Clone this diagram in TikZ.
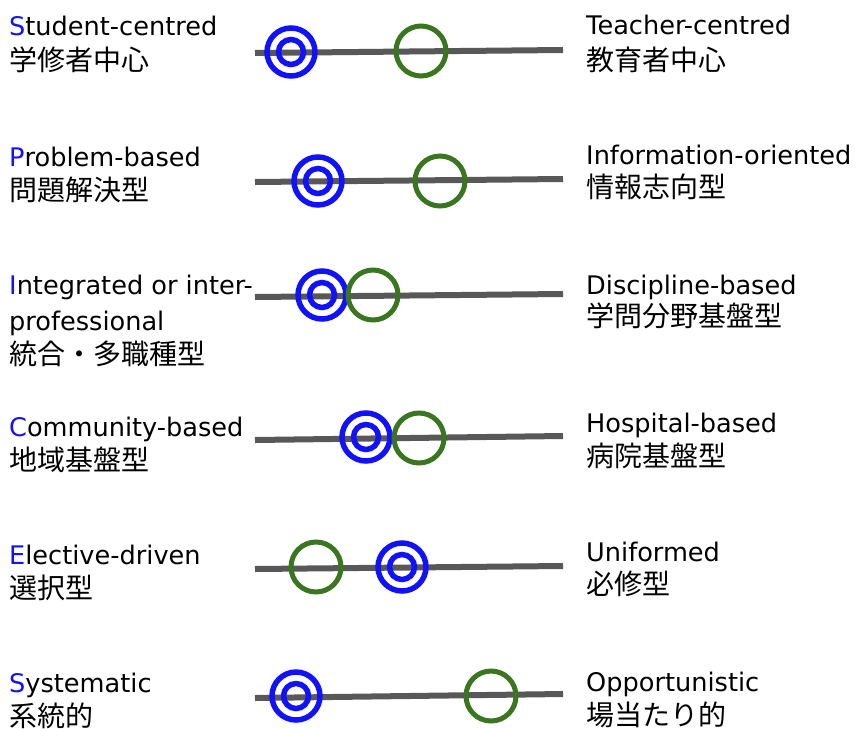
\documentclass[tikz,border=0pt]{standalone}
\usepackage{fontspec}
\setmainfont{DejaVu Sans}
\newfontfamily\jpfont{Noto Sans CJK JP}
\usetikzlibrary{positioning}

\definecolor{ringblue}{RGB}{18,18,250}
\definecolor{ringgreen}{RGB}{58,118,32}
\definecolor{barcol}{RGB}{88,88,88}

\newcommand\firstch[1]{\textcolor{ringblue}{#1}}

\begin{document}
\begin{tikzpicture}[%
    x=1pt, y=-1pt,
    lbl/.style={anchor=base west, inner sep=0pt, font=\fontsize{25.6}{30}\selectfont},
    jlbl/.style={anchor=base west, inner sep=0pt, font=\fontsize{28}{30}\selectfont\jpfont},
    bar/.style={draw=barcol, line width=6pt},
    target/.style={circle, draw=ringblue, line width=5.5pt, inner sep=0pt, minimum size=48pt},
    bull/.style={circle, draw=ringblue, line width=5.5pt, inner sep=0pt, minimum size=25pt},
    ring/.style={circle, draw=ringgreen, line width=5pt, inner sep=0pt, minimum size=50pt}
    ]

    \useasboundingbox (0,0) rectangle (858,728);

    % S
    \node[lbl] (s1) at (9,35) {\firstch{S}tudent-centred};
    \node[jlbl] (s1j) at (9,70) {学修者中心};
    \node[lbl] (s2) at (586,34) {Teacher-centred};
    \node[jlbl] (s2j) at (586,70) {教育者中心};
    \coordinate (sa) at (255,53);
    \coordinate (sb) at (563,50);
    \draw[bar] (sa) -- (sb);
    \node[target] (st) at (291,52) {};
    \node[bull] (sc) at (st) {};
    \node[ring] (sg) at (421,51) {};

    % P
    \node[lbl] (p1) at (9,166) {\firstch{P}roblem-based};
    \node[jlbl] (p1j) at (9,200) {問題解決型};
    \node[lbl] (p2) at (586,164) {Information-oriented};
    \node[jlbl] (p2j) at (586,197) {情報志向型};
    \coordinate (pa) at (255,182);
    \coordinate (pb) at (563,179);
    \draw[bar] (pa) -- (pb);
    \node[target] (pt) at (318,181) {};
    \node[bull] (pc) at (pt) {};
    \node[ring] (pg) at (440,181) {};

    % I
    \node[lbl] (i1) at (9,294) {\firstch{I}ntegrated or inter-};
    \node[lbl] (i1b) at (9,330) {professional};
    \node[jlbl] (i1j) at (9,364) {統合・多職種型};
    \node[lbl] (i2) at (586,294) {Discipline-based};
    \node[jlbl] (i2j) at (586,326) {学問分野基盤型};
    \coordinate (ia) at (255,297);
    \coordinate (ib) at (563,294);
    \draw[bar] (ia) -- (ib);
    \node[target] (it) at (322,295) {};
    \node[bull] (ic) at (it) {};
    \node[ring] (ig) at (373,295) {};

    % C
    \node[lbl] (c1) at (9,436) {\firstch{C}ommunity-based};
    \node[jlbl] (c1j) at (9,470) {地域基盤型};
    \node[lbl] (c2) at (586,432) {Hospital-based};
    \node[jlbl] (c2j) at (586,466) {病院基盤型};
    \coordinate (ca) at (255,440);
    \coordinate (cb) at (563,436);
    \draw[bar] (ca) -- (cb);
    \node[target] (ct) at (366,437) {};
    \node[bull] (cc) at (ct) {};
    \node[ring] (cg) at (419,438) {};

    % E
    \node[lbl] (e1) at (9,564) {\firstch{E}lective-driven};
    \node[jlbl] (e1j) at (9,598) {選択型};
    \node[lbl] (e2) at (586,561) {Uniformed};
    \node[jlbl] (e2j) at (586,594) {必修型};
    \coordinate (ea) at (255,569);
    \coordinate (eb) at (563,566);
    \draw[bar] (ea) -- (eb);
    \node[ring] (eg) at (316,567) {};
    \node[target] (et) at (402,567) {};
    \node[bull] (ec) at (et) {};

    % S
    \node[lbl] (y1) at (9,692) {\firstch{S}ystematic};
    \node[jlbl] (y1j) at (9,726) {系統的};
    \node[lbl] (y2) at (586,691) {Opportunistic};
    \node[jlbl] (y2j) at (586,725) {場当たり的};
    \coordinate (ya) at (255,698);
    \coordinate (yb) at (563,694);
    \draw[bar] (ya) -- (yb);
    \node[target] (yt) at (296,696) {};
    \node[bull] (yc) at (yt) {};
    \node[ring] (yg) at (491,696) {};

    \end{tikzpicture}
\end{document}
